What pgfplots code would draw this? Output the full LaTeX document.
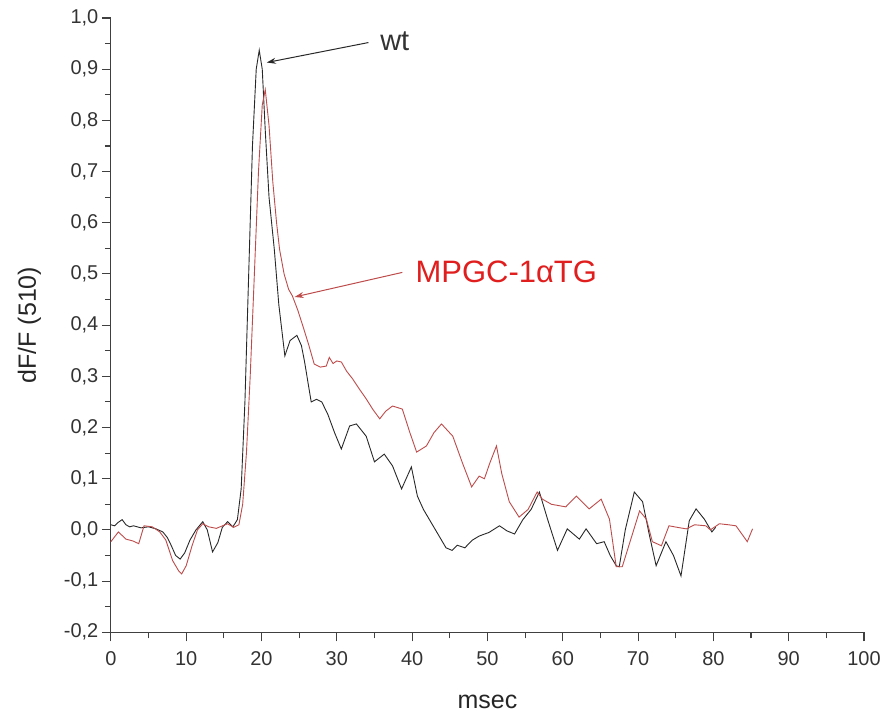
\documentclass[border=0pt]{standalone}
\usepackage{fontspec}
\setmainfont{Liberation Sans}
\usepackage{pgfplots}
\pgfplotsset{compat=1.18}
\usetikzlibrary{arrows.meta}

\definecolor{wtcol}{RGB}{40,40,40}
\definecolor{tgcol}{RGB}{190,75,75}
\definecolor{tgtext}{RGB}{225,30,30}

\begin{document}
\begin{tikzpicture}
\begin{axis}[
  name=ax,
  scale only axis,
  width=754pt, height=615pt,
  xmin=0, xmax=100, ymin=-0.2, ymax=1.0,
  axis x line=bottom, axis y line=left,
  axis line style={-, line width=1.2pt, black!75},
  xtick={0,10,...,100}, minor xtick={5,15,...,95},
  ytick={-0.2,-0.1,...,1.01}, minor ytick={-0.15,-0.05,...,0.96},
  xtick align=outside, ytick align=outside,
  major tick length=9pt, minor tick length=6pt,
  tick style={line width=1.1pt, black!75},
  every tick label/.append style={font=\fontsize{20}{24}\selectfont, black!80},
  /pgf/number format/assume math mode=true,
  yticklabel style={/pgf/number format/.cd, fixed, fixed zerofill, precision=1, use comma},
  xticklabel style={yshift=-7pt, /pgf/number format/.cd, fixed, precision=0},
  xlabel={msec}, ylabel={dF/F (510)},
  xlabel style={font=\fontsize{25}{29}\selectfont, black!85, yshift=-22pt},
  ylabel style={font=\fontsize{25}{29}\selectfont, black!85, yshift=16pt},
  clip=false,
]
% wt
\addplot[wtcol, line width=0.9pt] coordinates {
(0,0.01) (0.5,0.008) (1,0.015) (1.5,0.02) (2,0.01) (2.5,0.006) (3,0.008)
(4,0.004) (5,0.006) (6,0.002) (6.9,-0.004) (7.5,-0.015) (8,-0.03) (8.6,-0.05)
(9.2,-0.057) (9.8,-0.045) (10.5,-0.02) (11.3,0.0) (12.2,0.016) (12.8,0.0)
(13.5,-0.043) (14.2,-0.025) (14.8,0.005) (15.5,0.016) (16.2,0.006) (16.8,0.02)
(17.3,0.08) (17.8,0.25) (18.3,0.5) (18.8,0.75) (19.3,0.9) (19.7,0.937)
(20.1,0.9) (20.5,0.78) (21,0.65) (21.7,0.548) (22.3,0.44) (23.1,0.34)
(23.8,0.37) (24.7,0.38) (25.3,0.36) (25.7,0.33) (26.6,0.25) (27.3,0.255)
(28,0.25) (28.8,0.226) (29.7,0.19) (30.6,0.158) (31.7,0.203) (32.6,0.207)
(33.9,0.183) (35,0.133) (36.3,0.148) (37.4,0.125) (38.6,0.08) (39.9,0.123)
(40.7,0.066) (41.5,0.04) (42.5,0.015) (43.5,-0.01) (44.5,-0.035) (45.3,-0.04)
(46,-0.03) (47,-0.035) (48,-0.02) (48.9,-0.012) (50.2,-0.005) (51.6,0.008)
(52.6,-0.002) (53.6,-0.008) (54.7,0.02) (55.8,0.04) (56.9,0.074) (58,0.02)
(59.3,-0.04) (60.6,0.002) (62.2,-0.018) (63.1,0.002) (64.5,-0.027)
(65.5,-0.023) (66.3,-0.05) (67.1,-0.07) (67.5,-0.072) (68.3,0.0) (69.5,0.074)
(70.6,0.055) (71.5,-0.01) (72.4,-0.07) (73.7,-0.023) (74.7,-0.05)
(75.7,-0.09) (76.8,0.018) (77.7,0.041) (78.8,0.021) (79.8,-0.004) (80.3,0.005)
};
% MPGC-1aTG
\addplot[tgcol, line width=0.9pt] coordinates {
(0,-0.023) (1,-0.004) (2,-0.018) (3,-0.022) (3.7,-0.027) (4.4,0.008)
(5.5,0.006) (6.5,-0.004) (7.3,-0.02) (8.2,-0.06) (9.0,-0.08) (9.4,-0.086)
(10,-0.07) (10.8,-0.03) (11.5,0.0) (12.2,0.012) (13,0.006) (14,0.003)
(15.5,0.012) (16.3,0.005) (17,0.01) (17.5,0.05) (18,0.15) (18.5,0.3)
(19,0.48) (19.6,0.7) (20.1,0.83) (20.5,0.86) (21,0.79) (21.5,0.68) (22,0.6)
(22.4,0.548) (23,0.5) (23.6,0.47) (24.1,0.457) (24.8,0.43) (25.5,0.398)
(26.3,0.36) (27,0.324) (27.8,0.318) (28.6,0.32) (29,0.337) (29.5,0.325)
(30,0.33) (30.6,0.328) (31.3,0.31) (32.1,0.295) (33,0.275) (33.9,0.256)
(34.8,0.235) (35.7,0.217) (36.5,0.232) (37.4,0.242) (38.7,0.236) (39.7,0.19)
(40.6,0.152) (41.9,0.164) (42.9,0.19) (43.9,0.207) (45.4,0.183) (46.7,0.13)
(47.9,0.084) (48.9,0.105) (49.6,0.1) (50.3,0.13) (51.2,0.164) (51.9,0.11)
(52.9,0.055) (54.2,0.025) (55.4,0.04) (56.6,0.074) (57.3,0.06) (58.5,0.05)
(60.4,0.045) (61.8,0.066) (63.5,0.041) (65.1,0.06) (66.2,0.021) (67.1,-0.072)
(67.9,-0.072) (69,-0.02) (70.2,0.037) (71.1,0.021) (71.9,-0.023)
(73.1,-0.031) (74.1,0.008) (75.2,0.005) (76.4,0.002) (77.5,0.01) (79,0.008)
(79.6,0.0) (80.8,0.012) (82,0.01) (83,0.008) (84.5,-0.023) (85.2,0.002)
};
% annotations
\draw[wtcol, line width=1pt, -{Stealth[length=9pt, width=6pt]}]
  (axis cs:34.2,0.952) -- (axis cs:20.7,0.913);
\node[anchor=west, font=\fontsize{29}{33}\selectfont, black!80]
  at (axis cs:35.3,0.955) {wt};
\draw[tgcol, line width=1pt, -{Stealth[length=9pt, width=6pt]}]
  (axis cs:38.7,0.503) -- (axis cs:24.4,0.455);
\node[anchor=west, font=\fontsize{31}{35}\selectfont, tgtext]
  at (axis cs:40.0,0.505) {MPGC-1αTG};
\end{axis}
\path (ax.south west) ++(-111pt,-88pt) rectangle ([xshift=19pt, yshift=18pt]ax.north east);
\end{tikzpicture}
\end{document}
